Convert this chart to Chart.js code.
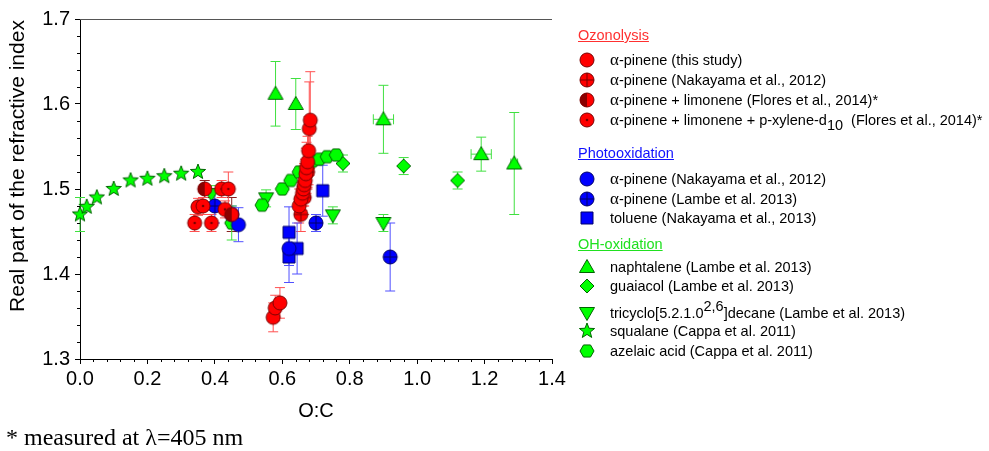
<!DOCTYPE html>
<html>
<head>
<meta charset="utf-8">
<script src="https://cdn.jsdelivr.net/npm/chart.js@4.4.0/dist/chart.umd.min.js"></script>
<style>
  body { margin: 0; background: #fff; font-family: "Liberation Sans", Arial, sans-serif; }
  #Page { position: relative; width: 989px; height: 451px; overflow: hidden; }
  #Chart__Box { position: absolute; left: 0; top: 0; width: 989px; height: 451px; }
  .Legend__Head { position: absolute; left: 578px; font-size: 14.5px; line-height: 18px; text-decoration: underline; }
  .Legend__Row { position: absolute; left: 578px; font-size: 14.5px; line-height: 18px; height: 18px; white-space: nowrap; }
  .Legend__Row canvas { position: absolute; left: 0; top: 0; }
  .Legend__Row span.txt { position: absolute; left: 32px; top: 0; line-height: 18px; }
  .al { font-family: "Liberation Serif", serif; font-size: 17px; line-height: 0; }
  .sb { position: relative; top: 5px; line-height: 0; }
  .sp { position: relative; top: -7px; line-height: 0; }
  #Foot__Note { position: absolute; left: 6px; top: 423px; line-height: 28px; font-family: "Liberation Serif", serif; font-size: 24px; }
</style>
</head>
<body>
<div id="Page">
  <div id="Chart__Box"><canvas id="Refr__Chart"></canvas></div>
  <div id="Legend__Box"></div>
  <div id="Foot__Note">* measured at &lambda;=405 nm</div>
</div>
<script>
/* ---- data: O:C (x), real refractive index (y), y and x error ---- */
/* Ozonolysis */
const ozoThisX   = [0.573, 0.579, 0.593, 0.650, 0.655, 0.660, 0.663, 0.665, 0.668, 0.670, 0.672, 0.675, 0.678, 0.680, 0.683];
const ozoThisY   = [1.349, 1.360, 1.366, 1.480, 1.488, 1.495, 1.500, 1.505, 1.510, 1.518, 1.525, 1.532, 1.545, 1.571, 1.581];
const ozoThisErr = [0.017, 0.015, 0.018, 0.02, 0.02, 0.02, 0.02, 0.025, 0.025, 0.03, 0.03, 0.03, 0.04, 0.055, 0.057];
const ozoNakX    = [0.655, 0.665, 0.675];
const ozoNakY    = [1.470, 1.490, 1.520];
const ozoNakErr  = [0.02, 0.02, 0.02];
const floresLimX   = [0.37, 0.45];
const floresLimY   = [1.500, 1.470];
const floresLimErr = [0.01, 0.02];
const floresXylX   = [0.34, 0.39, 0.35, 0.365, 0.42, 0.44, 0.43];
const floresXylY   = [1.460, 1.460, 1.479, 1.480, 1.500, 1.500, 1.476];
const floresXylErr = [0.01, 0.01, 0.01, 0.01, 0.01, 0.02, 0.01];
/* Photooxidation */
const photoNakX   = [0.45, 0.47, 0.62];
const photoNakY   = [1.470, 1.458, 1.430];
const photoNakErr = [0.01, 0.02, 0.02];
const photoLamX   = [0.40, 0.70, 0.92];
const photoLamY   = [1.480, 1.460, 1.420];
const photoLamErr = [0.02, 0.01, 0.04];
const tolueneX    = [0.62, 0.62, 0.644, 0.72];
const tolueneY    = [1.449, 1.420, 1.430, 1.498];
const tolueneErr  = [0.03, 0.03, 0.03, 0.03];
/* OH-oxidation */
const naphX    = [0.58, 0.64, 0.90, 1.19, 1.288];
const naphY    = [1.612, 1.600, 1.582, 1.541, 1.530];
const naphErrY = [0.038, 0.03, 0.04, 0.02, 0.06];
const naphErrX = [0, 0, 0.03, 0.03, 0.01];
const guaiX    = [0.78, 0.96, 1.12];
const guaiY    = [1.530, 1.527, 1.510];
const guaiErr  = [0.01, 0.01, 0.01];
const tricX    = [0.39, 0.552, 0.75, 0.90];
const tricY    = [1.494, 1.489, 1.469, 1.460];
const tricErr  = [0.01, 0.01, 0.01, 0.01];
const squalX   = [0.00, 0.02, 0.05, 0.10, 0.15, 0.20, 0.25, 0.30, 0.35];
const squalY   = [1.470, 1.479, 1.490, 1.500, 1.510, 1.512, 1.515, 1.518, 1.520];
const squalErr = [0.02, 0, 0, 0, 0, 0, 0, 0, 0];
const azelX    = [0.45, 0.54, 0.60, 0.625, 0.65, 0.68, 0.69, 0.71, 0.733, 0.76];
const azelY    = [1.460, 1.481, 1.500, 1.510, 1.520, 1.530, 1.533, 1.535, 1.538, 1.540];
const azelErr  = [0.02, 0, 0, 0, 0, 0, 0, 0, 0, 0];

/* axis ticks */
const xTicks = [0.0, 0.2, 0.4, 0.6, 0.8, 1.0, 1.2, 1.4];
const yTicks = [1.3, 1.4, 1.5, 1.6, 1.7];

/* colours */
const RED = "#ff0000", RED_LINE = "#7a0000", RED_ERR = "#ff5050";
const BLUE = "#0000ff", BLUE_LINE = "#00006a", BLUE_ERR = "#5050ff";
const GREEN = "#00ff00", GREEN_LINE = "#006400", GREEN_ERR = "#40e040";

/* draws one symbol centred at cx, cy */
function drawMarker(ctx, shape, cx, cy, fill, line) {
  ctx.save();
  ctx.lineWidth = 1;
  ctx.fillStyle = fill;
  ctx.strokeStyle = line;
  const r = 7;
  ctx.beginPath();
  if (shape.startsWith("circle")) {
    ctx.arc(cx, cy, r, 0, Math.PI * 2);
    ctx.fill();
    if (shape == "circleHalf") {
      ctx.fillStyle = "#8a0000";
      ctx.beginPath();
      ctx.arc(cx, cy, r, Math.PI / 2, Math.PI * 1.5);
      ctx.fill();
      ctx.beginPath();
      ctx.arc(cx, cy, r, 0, Math.PI * 2);
    }
    ctx.stroke();
    if (shape == "circleCross") {
      ctx.beginPath();
      ctx.moveTo(cx - r, cy); ctx.lineTo(cx + r, cy);
      ctx.moveTo(cx, cy - r); ctx.lineTo(cx, cy + r);
      ctx.stroke();
    }
    if (shape == "circleDot") {
      ctx.fillStyle = line;
      ctx.beginPath();
      ctx.arc(cx, cy, 1.3, 0, Math.PI * 2);
      ctx.fill();
    }
  } else if (shape == "square") {
    ctx.rect(cx - 6, cy - 6, 12, 12);
    ctx.fill(); ctx.stroke();
  } else if (shape == "triangle") {
    ctx.moveTo(cx, cy - 7.5); ctx.lineTo(cx + 7.5, cy + 5.5); ctx.lineTo(cx - 7.5, cy + 5.5);
    ctx.closePath(); ctx.fill(); ctx.stroke();
  } else if (shape == "triDown") {
    ctx.moveTo(cx, cy + 7.5); ctx.lineTo(cx + 7.5, cy - 5.5); ctx.lineTo(cx - 7.5, cy - 5.5);
    ctx.closePath(); ctx.fill(); ctx.stroke();
  } else if (shape == "diamond") {
    ctx.moveTo(cx, cy - 7); ctx.lineTo(cx + 7, cy); ctx.lineTo(cx, cy + 7); ctx.lineTo(cx - 7, cy);
    ctx.closePath(); ctx.fill(); ctx.stroke();
  } else if (shape == "star") {
    for (let k = 0; k < 10; k++) {
      const rad = k % 2 == 0 ? 8 : 3.4;
      const a = -Math.PI / 2 + k * Math.PI / 5;
      const px = cx + rad * Math.cos(a), py = cy + rad * Math.sin(a);
      if (k == 0) ctx.moveTo(px, py); else ctx.lineTo(px, py);
    }
    ctx.closePath(); ctx.fill(); ctx.stroke();
  } else if (shape == "hexagon") {
    for (let k = 0; k < 6; k++) {
      const a = k * Math.PI / 3;
      const px = cx + 7 * Math.cos(a), py = cy + 7 * Math.sin(a);
      if (k == 0) ctx.moveTo(px, py); else ctx.lineTo(px, py);
    }
    ctx.closePath(); ctx.fill(); ctx.stroke();
  }
  ctx.restore();
}

/* makes a small canvas that Chart.js can use as pointStyle */
function markerImage(shape, fill, line) {
  const c = document.createElement("canvas");
  c.width = 18; c.height = 18;
  drawMarker(c.getContext("2d"), shape, 9, 9, fill, line);
  return c;
}

function toPoints(xs, ys) {
  return xs.map((v, i) => ({ x: v, y: ys[i] }));
}

/* series description: marker and colours */
const seriesList = [
  { name: "ozoThis",  x: ozoThisX,   y: ozoThisY,   ey: ozoThisErr,   shape: "circle",      fill: RED,   line: RED_LINE,   err: RED_ERR },
  { name: "ozoNak",   x: ozoNakX,    y: ozoNakY,    ey: ozoNakErr,    shape: "circleCross", fill: RED,   line: RED_LINE,   err: RED_ERR },
  { name: "floLim",   x: floresLimX, y: floresLimY, ey: floresLimErr, shape: "circleHalf",  fill: RED,   line: RED_LINE,   err: "#8a2020" },
  { name: "floXyl",   x: floresXylX, y: floresXylY, ey: floresXylErr, shape: "circleDot",   fill: RED,   line: RED_LINE,   err: RED_ERR },
  { name: "phoNak",   x: photoNakX,  y: photoNakY,  ey: photoNakErr,  shape: "circle",      fill: BLUE,  line: BLUE_LINE,  err: BLUE_ERR },
  { name: "phoLam",   x: photoLamX,  y: photoLamY,  ey: photoLamErr,  shape: "circleCross", fill: BLUE,  line: BLUE_LINE,  err: BLUE_ERR },
  { name: "toluene",  x: tolueneX,   y: tolueneY,   ey: tolueneErr,   shape: "square",      fill: BLUE,  line: BLUE_LINE,  err: BLUE_ERR },
  { name: "squalane", x: squalX,     y: squalY,     ey: squalErr,     shape: "star",        fill: GREEN, line: GREEN_LINE, err: GREEN_ERR },
  { name: "azelaic",  x: azelX,      y: azelY,      ey: azelErr,      shape: "hexagon",     fill: GREEN, line: GREEN_LINE, err: GREEN_ERR },
  { name: "naph",     x: naphX,      y: naphY,      ey: naphErrY, ex: naphErrX, shape: "triangle", fill: GREEN, line: GREEN_LINE, err: GREEN_ERR },
  { name: "guaiacol", x: guaiX,      y: guaiY,      ey: guaiErr,      shape: "diamond",     fill: GREEN, line: GREEN_LINE, err: GREEN_ERR },
  { name: "tricyclo", x: tricX,      y: tricY,      ey: tricErr,      shape: "triDown",     fill: GREEN, line: GREEN_LINE, err: GREEN_ERR }
];

/* error bars drawn under the symbols */
const errorBars = {
  id: "errorBars",
  beforeDatasetsDraw(chart) {
    const ctx = chart.ctx, xs = chart.scales.x, ys = chart.scales.y;
    chart.data.datasets.forEach(ds => {
      ctx.save();
      ctx.strokeStyle = ds.errColor;
      ctx.lineWidth = 1;
      ds.data.forEach((p, i) => {
        const px = xs.getPixelForValue(p.x), py = ys.getPixelForValue(p.y);
        const ey = ds.errY ? ds.errY[i] : 0;
        const ex = ds.errX ? ds.errX[i] : 0;
        ctx.beginPath();
        if (ey) {
          const top = ys.getPixelForValue(p.y + ey), bot = ys.getPixelForValue(p.y - ey);
          ctx.moveTo(px, top); ctx.lineTo(px, bot);
          ctx.moveTo(px - 5, top); ctx.lineTo(px + 5, top);
          ctx.moveTo(px - 5, bot); ctx.lineTo(px + 5, bot);
        }
        if (ex) {
          const lft = xs.getPixelForValue(p.x - ex), rgt = xs.getPixelForValue(p.x + ex);
          ctx.moveTo(lft, py); ctx.lineTo(rgt, py);
          ctx.moveTo(lft, py - 5); ctx.lineTo(lft, py + 5);
          ctx.moveTo(rgt, py - 5); ctx.lineTo(rgt, py + 5);
        }
        ctx.stroke();
      });
      ctx.restore();
    });
  }
};

const FONT = "'Liberation Sans', Arial, sans-serif";

/* minor ticks, top frame line and axis titles */
const axisExtras = {
  id: "axisExtras",
  afterDraw(chart) {
    const ctx = chart.ctx, xs = chart.scales.x, ys = chart.scales.y, area = chart.chartArea;
    ctx.save();
    ctx.strokeStyle = "#000";
    ctx.lineWidth = 1;
    ctx.beginPath();
    for (let k = 0; k <= 35; k++) {
      if (k % 5 == 0) continue;
      const px = Math.round(xs.getPixelForValue(k * 0.04)) + 0.5;
      ctx.moveTo(px, area.bottom); ctx.lineTo(px, area.bottom + 3);
    }
    for (let k = 0; k <= 20; k++) {
      if (k % 5 == 0) continue;
      const py = Math.round(ys.getPixelForValue(1.3 + k * 0.02)) + 0.5;
      ctx.moveTo(area.left, py); ctx.lineTo(area.left - 3, py);
    }
    ctx.stroke();
    ctx.strokeStyle = "#555";
    ctx.beginPath();
    ctx.moveTo(area.left, Math.round(area.top) + 0.5);
    ctx.lineTo(area.right, Math.round(area.top) + 0.5);
    ctx.stroke();

    ctx.fillStyle = "#000";
    ctx.font = "20px " + FONT;
    ctx.textAlign = "center";
    ctx.textBaseline = "middle";
    ctx.fillText("O:C", (area.left + area.right) / 2, 411);
    ctx.font = "21px " + FONT;
    ctx.translate(18, 166);
    ctx.rotate(-Math.PI / 2);
    ctx.fillText("Real part of the refractive index", 0, 0);
    ctx.restore();
  }
};

const tickFont = { family: FONT, size: 20 };

const myChart = new Chart(document.getElementById("Refr__Chart"), {
  type: "scatter",
  plugins: [errorBars, axisExtras],
  data: {
    datasets: seriesList.map(s => ({
      label: s.name,
      data: toPoints(s.x, s.y),
      errY: s.ey,
      errX: s.ex,
      errColor: s.err,
      pointStyle: markerImage(s.shape, s.fill, s.line),
      pointRadius: 8,
      clip: false
    }))
  },
  options: {
    responsive: true,
    maintainAspectRatio: false,
    animation: false,
    layout: { padding: { left: 0, right: 437, top: 19, bottom: 20 } },
    plugins: { legend: { display: false }, tooltip: { enabled: false } },
    scales: {
      x: {
        type: "linear", min: 0, max: 1.4,
        afterBuildTicks: sc => { sc.ticks = xTicks.map(v => ({ value: v })); },
        afterFit: sc => { sc.height = 72; },
        ticks: { font: tickFont, color: "#000", padding: 3, callback: v => v.toFixed(1) },
        grid: { drawOnChartArea: false, tickLength: 5, color: "#000" },
        border: { color: "#000", width: 1 }
      },
      y: {
        type: "linear", min: 1.3, max: 1.7,
        afterBuildTicks: sc => { sc.ticks = yTicks.map(v => ({ value: v })); },
        afterFit: sc => { sc.width = 80; },
        ticks: { font: tickFont, color: "#000", padding: 5, callback: v => v.toFixed(1) },
        grid: { drawOnChartArea: false, tickLength: 5, color: "#000" },
        border: { color: "#000", width: 1 }
      }
    }
  }
});

/* legend, built as html so the group headings and sub/superscripts look right */
const legendItems = [
  { head: "Ozonolysis", color: "#ff3030", y: 26 },
  { s: 0, y: 51, html: '<span class="al">&alpha;</span>-pinene (this study)' },
  { s: 1, y: 71, html: '<span class="al">&alpha;</span>-pinene (Nakayama et al., 2012)' },
  { s: 2, y: 91, html: '<span class="al">&alpha;</span>-pinene + limonene (Flores et al., 2014)*' },
  { s: 3, y: 111, html: '<span class="al">&alpha;</span>-pinene + limonene + p-xylene-d<span class="sb">10</span>&nbsp; (Flores et al., 2014)*' },
  { head: "Photooxidation", color: "#1010ff", y: 144 },
  { s: 4, y: 170, html: '<span class="al">&alpha;</span>-pinene (Nakayama et al., 2012)' },
  { s: 5, y: 190, html: '<span class="al">&alpha;</span>-pinene (Lambe et al. 2013)' },
  { s: 6, y: 209, html: 'toluene (Nakayama et al., 2013)' },
  { head: "OH-oxidation", color: "#20e020", y: 235 },
  { s: 9, y: 258, html: 'naphtalene (Lambe et al. 2013)' },
  { s: 10, y: 277, html: 'guaiacol (Lambe et al. 2013)' },
  { s: 11, y: 304, html: 'tricyclo[5.2.1.0<span class="sp">2,6</span>]decane (Lambe et al. 2013)' },
  { s: 7, y: 322, html: 'squalane (Cappa et al. 2011)' },
  { s: 8, y: 342, html: 'azelaic acid (Cappa et al. 2011)' }
];

const LegendBox = document.getElementById("Legend__Box");
legendItems.forEach(item => {
  const el = document.createElement("div");
  if (item.head) {
    el.className = "Legend__Head";
    el.style.top = item.y + "px";
    el.style.color = item.color;
    el.textContent = item.head;
  } else {
    const s = seriesList[item.s];
    el.className = "Legend__Row";
    el.style.top = item.y + "px";
    el.appendChild(markerImage(s.shape, s.fill, s.line));
    const t = document.createElement("span");
    t.className = "txt";
    t.innerHTML = item.html;
    el.appendChild(t);
  }
  LegendBox.appendChild(el);
});
</script>
</body>
</html>
